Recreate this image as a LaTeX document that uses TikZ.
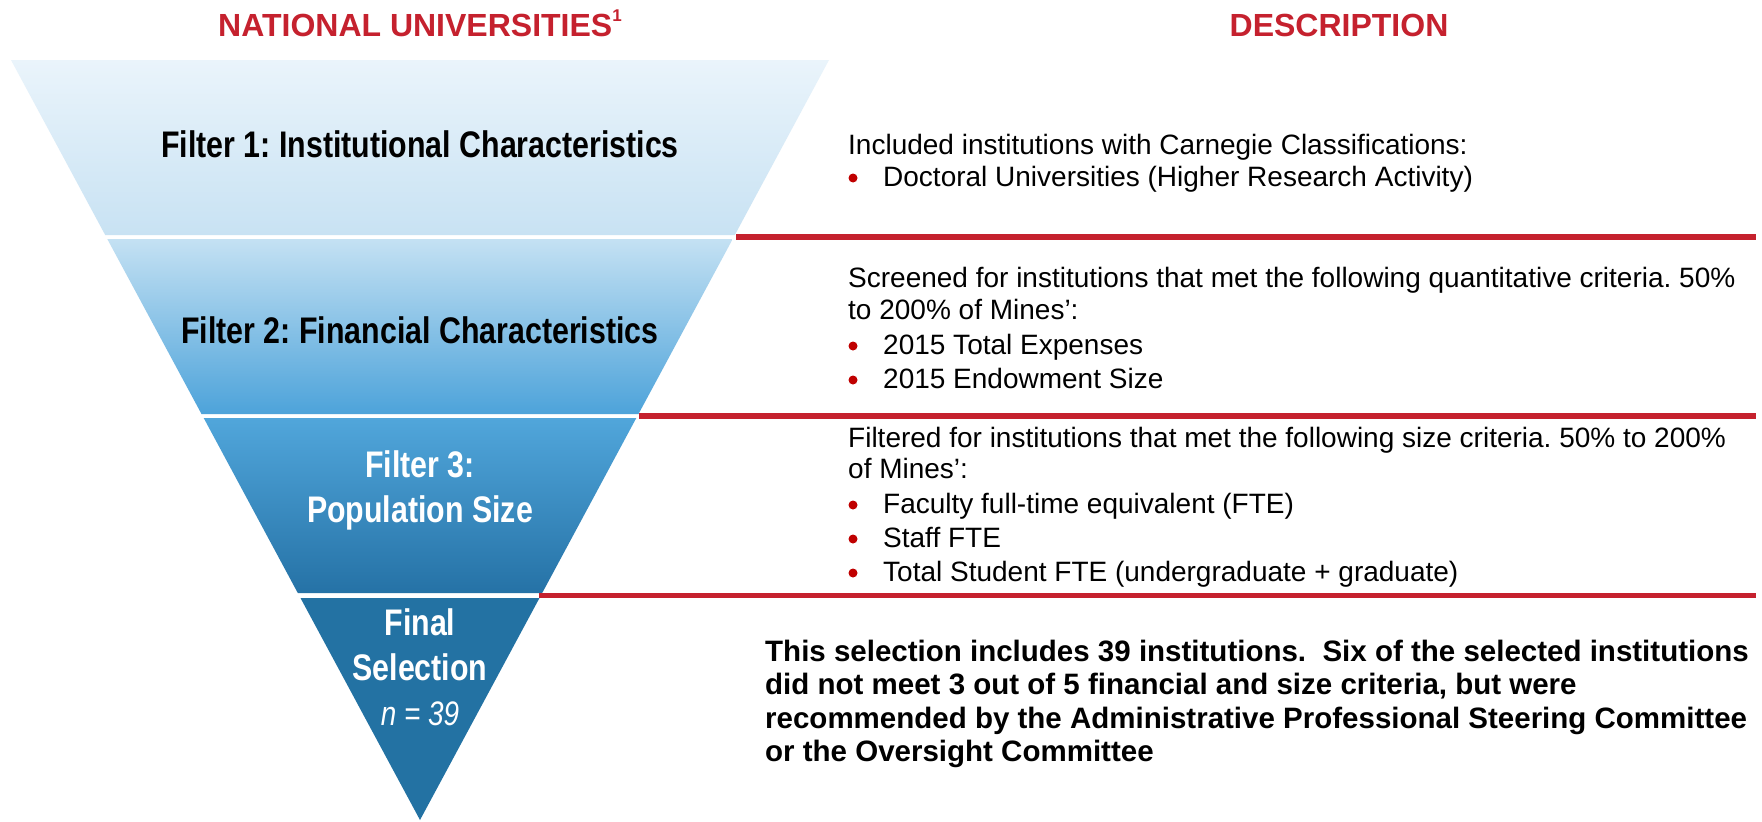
\documentclass[tikz,border=0pt]{standalone}
\usepackage{fontspec}
\setmainfont{Liberation Sans}
\newfontfamily\narrowfont[FakeStretch=0.82]{Liberation Sans}
\frenchspacing
\definecolor{mred}{RGB}{197,33,46}
\definecolor{bred}{RGB}{192,0,0}
\definecolor{bandAtop}{RGB}{234,244,251}
\definecolor{bandAbot}{RGB}{200,226,243}
\definecolor{bandBtop}{RGB}{196,225,243}
\definecolor{bandBbot}{RGB}{77,163,218}
\definecolor{bandCtop}{RGB}{81,166,219}
\definecolor{bandCbot}{RGB}{37,114,166}
\definecolor{bandD}{RGB}{35,114,163}
\tikzset{
  titletext/.style={anchor=base, inner sep=0pt, text=mred, font=\fontsize{32}{38}\selectfont\bfseries},
  flabel/.style={anchor=base, inner sep=0pt, font=\narrowfont\bfseries\fontsize{37}{44}\selectfont},
  nlabel/.style={anchor=base, inner sep=0pt, text=white, font=\narrowfont\itshape\fontsize{34}{40}\selectfont},
  desc/.style={anchor=base west, inner sep=0pt, font=\fontsize{28}{33}\selectfont},
  fin/.style={anchor=base west, inner sep=0pt, font=\fontsize{29.5}{35}\selectfont\bfseries},
  bul/.style={circle, fill=bred, inner sep=0pt, minimum size=9pt},
  sepline/.style={mred, line width=5.5pt}
}
\begin{document}
\begin{tikzpicture}[x=1pt,y=-1pt]
\useasboundingbox (0,0) rectangle (1762,822);
\fill[white] (0,0) rectangle (1762,822);

% funnel bands
\shade[top color=bandAtop, bottom color=bandAbot] (11,60) -- (829,60) -- (734.8,235) -- (105.2,235) -- cycle;
\shade[top color=bandBtop, bottom color=bandBbot] (107.3,239) -- (732.7,239) -- (638.5,414) -- (201.5,414) -- cycle;
\shade[top color=bandCtop, bottom color=bandCbot] (203.7,418) -- (636.3,418) -- (542.2,593) -- (297.8,593) -- cycle;
\fill[bandD] (300.5,598) -- (539.5,598) -- (420,820) -- cycle;

% separators
\coordinate (s1a) at (736,236.8); \coordinate (s1b) at (1756,236.8);
\coordinate (s2a) at (639,416);   \coordinate (s2b) at (1756,416);
\coordinate (s3a) at (539,595.5); \coordinate (s3b) at (1756,595.5);
\draw[sepline] (s1a) -- (s1b);
\draw[sepline] (s2a) -- (s2b);
\draw[sepline] (s3a) -- (s3b);

% titles
\node[titletext] (t1) at (420,36) {NATIONAL UNIVERSITIES\raisebox{0.45em}{\fontsize{17}{17}\selectfont 1}};
\node[titletext] (t2) at (1339,36) {DESCRIPTION};

% funnel labels
\node[flabel] (f1) at (420,157) {Filter 1: Institutional Characteristics};
\node[flabel] (f2) at (420,343) {Filter 2: Financial Characteristics};
\node[flabel, text=white] (f3a) at (420,477) {Filter 3:};
\node[flabel, text=white] (f3b) at (420,522) {Population Size};
\node[flabel, text=white] (f4a) at (420,635) {Final};
\node[flabel, text=white] (f4b) at (420,680) {Selection};
\node[nlabel] (f4c) at (420,725) {n = 39};

% description 1
\node[desc] (d1a) at (848,154) {Included institutions with Carnegie Classifications:};
\node[bul] (b1a) at (853,178) {};
\node[desc] (d1b) at (883,186) {Doctoral Universities (Higher Research Activity)};

% description 2
\node[desc] (d2a) at (848,287) {Screened for institutions that met the following quantitative criteria. 50\%};
\node[desc] (d2b) at (848,319) {to 200\% of Mines’:};
\node[bul] (b2a) at (853,346) {};
\node[desc] (d2c) at (883,354) {2015 Total Expenses};
\node[bul] (b2b) at (853,380) {};
\node[desc] (d2d) at (883,388) {2015 Endowment Size};

% description 3
\node[desc] (d3a) at (848,447) {Filtered for institutions that met the following size criteria. 50\% to 200\%};
\node[desc] (d3b) at (848,478) {of Mines’:};
\node[bul] (b3a) at (853,505) {};
\node[desc] (d3c) at (883,513) {Faculty full-time equivalent (FTE)};
\node[bul] (b3b) at (853,539) {};
\node[desc] (d3d) at (883,547) {Staff FTE};
\node[bul] (b3c) at (853,573) {};
\node[desc] (d3e) at (883,581) {Total Student FTE (undergraduate + graduate)};

% final text
\node[fin] (e1) at (765,661) {This selection includes 39 institutions.~~Six of the selected institutions};
\node[fin] (e2) at (765,694) {did not meet 3 out of 5 financial and size criteria, but were};
\node[fin] (e3) at (765,728) {recommended by the Administrative Professional Steering Committee};
\node[fin] (e4) at (765,761) {or the Oversight Committee};
\end{tikzpicture}
\end{document}
